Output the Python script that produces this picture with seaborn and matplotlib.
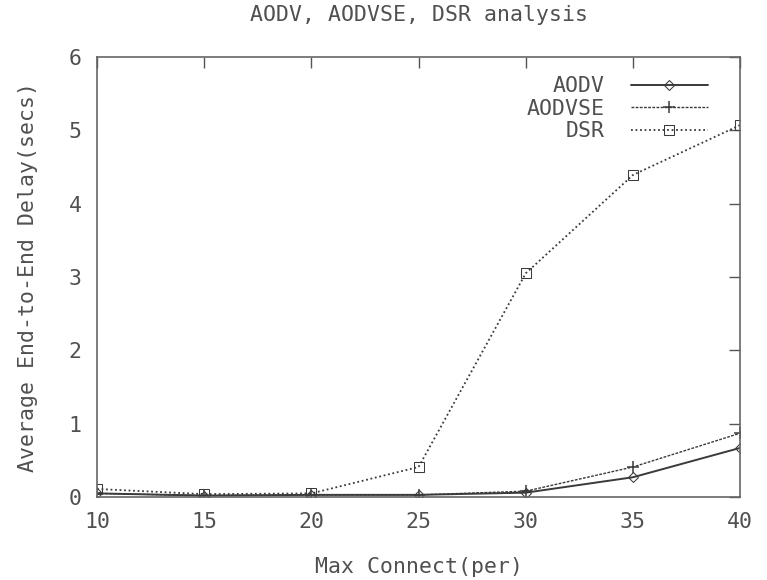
import matplotlib
matplotlib.use("Agg")
import matplotlib.pyplot as plt
import seaborn as sns
import pandas as pd

x_vals = [10, 15, 20, 25, 30, 35, 40]
aodv = [0.05, 0.02, 0.03, 0.03, 0.06, 0.27, 0.67]
aodvse = [0.05, 0.02, 0.03, 0.03, 0.08, 0.41, 0.87]
dsr = [0.11, 0.04, 0.05, 0.41, 3.05, 4.39, 5.07]
series_names = ["AODV", "AODVSE", "DSR"]
x_ticks = [10, 15, 20, 25, 30, 35, 40]
y_ticks = [0, 1, 2, 3, 4, 5, 6]

sns.set_theme(style="white")
plt.rcParams["font.family"] = ["DejaVu Sans Mono", "DejaVu Sans"]

fig = plt.figure(figsize=(7.67, 5.8), dpi=100)
ax = fig.add_axes([0.1265, 0.143, 0.8385, 0.759])

styles = {
    "AODV": dict(marker="D", markersize=5.5, linestyle="-", linewidth=1.4),
    "AODVSE": dict(marker="+", markersize=9, linestyle=(0, (2, 1)), linewidth=1.0, markeredgewidth=1.1),
    "DSR": dict(marker="s", markersize=7, linestyle=(0, (1, 1.5)), linewidth=1.3),
}
col = "#3a3a3a"
for name, vals in zip(series_names, [aodv, aodvse, dsr]):
    df = pd.DataFrame({"x": x_vals, "y": vals})
    st = styles[name]
    sns.lineplot(data=df, x="x", y="y", ax=ax, color=col, label=name,
                 markerfacecolor="none", markeredgecolor=col, **st)

ax.set_xlim(10, 40)
ax.set_ylim(0, 6)
ax.set_xticks(x_ticks)
ax.set_yticks(y_ticks)
txt = "#505050"
fs = 15.5
ax.tick_params(direction="in", length=8, width=1, top=True, right=True,
               labelsize=fs, labelcolor=txt, color="#555555", pad=11)
for s in ax.spines.values():
    s.set_color("#666666")
    s.set_linewidth(1.2)
ax.set_xlabel("Max Connect(per)", fontsize=fs, color=txt, labelpad=18)
ax.set_ylabel("Average End-to-End Delay(secs)", fontsize=fs, color=txt, labelpad=22)
ax.set_title("AODV, AODVSE, DSR analysis", fontsize=fs, color=txt, pad=26)

leg = ax.legend(loc="upper right", frameon=False, markerfirst=False,
                fontsize=fs, handlelength=3.6, labelspacing=0.12,
                borderaxespad=0.35, borderpad=0.3, handletextpad=1.2)
leg.set_bbox_to_anchor((0.972, 0.988), transform=ax.transAxes)
for t in leg.get_texts():
    t.set_color(txt)

fig.savefig("out.png", dpi=100)
